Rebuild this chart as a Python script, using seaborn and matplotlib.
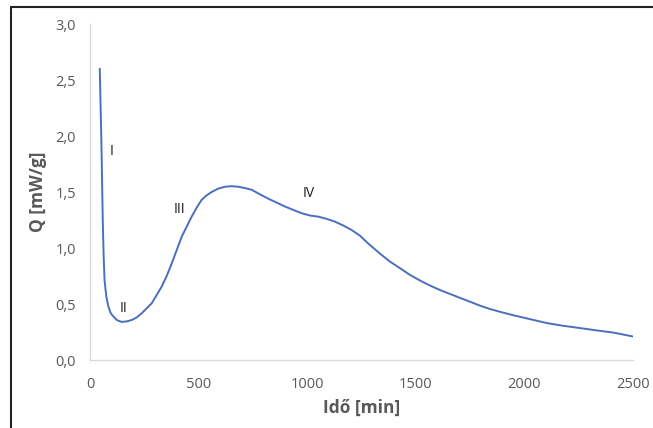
import matplotlib
matplotlib.use("Agg")
import matplotlib.pyplot as plt
import seaborn as sns
from matplotlib.lines import Line2D
from matplotlib.ticker import FuncFormatter

# ── Data ─────────────────────────────────────────────────────────────────────
ido_min = [45, 49, 53, 56, 59, 63, 67, 75, 84, 95, 107, 125, 146, 170, 192,
           215, 238, 260, 284, 307, 330, 353, 376, 399, 422, 445, 468, 491,
           514, 537, 560, 590, 622, 652, 683, 714, 744, 782, 821, 860, 898,
           936, 975, 1013, 1051, 1090, 1128, 1167, 1205, 1243, 1281, 1335,
           1380, 1427, 1473, 1519, 1565, 1611, 1657, 1703, 1750, 1796, 1842,
           1888, 1948, 2025, 2103, 2180, 2256, 2330, 2409, 2500]
q_mw_g = [2.60, 2.25, 1.90, 1.55, 1.22, 0.92, 0.71, 0.57, 0.48, 0.42, 0.39,
          0.355, 0.34, 0.345, 0.357, 0.38, 0.417, 0.46, 0.506, 0.58, 0.655,
          0.75, 0.86, 0.98, 1.10, 1.19, 1.28, 1.36, 1.43, 1.47, 1.50, 1.53,
          1.547, 1.552, 1.547, 1.535, 1.52, 1.48, 1.44, 1.405, 1.37, 1.34,
          1.31, 1.29, 1.28, 1.26, 1.235, 1.20, 1.16, 1.11, 1.04, 0.95, 0.88,
          0.82, 0.76, 0.71, 0.665, 0.625, 0.59, 0.555, 0.52, 0.485, 0.455,
          0.43, 0.40, 0.365, 0.33, 0.305, 0.285, 0.265, 0.245, 0.21]

phase_labels = ["I", "II", "III", "IV"]
phase_x = [101, 154, 414, 1005]
phase_y = [1.86, 0.46, 1.345, 1.49]

x_ticks = [0, 500, 1000, 1500, 2000, 2500]
y_ticks = [0.0, 0.5, 1.0, 1.5, 2.0, 2.5, 3.0]

# ── Style ────────────────────────────────────────────────────────────────────
sns.set_style("white")
plt.rcParams["font.family"] = ["Open Sans", "DejaVu Sans"]

W, H = 653, 428
fig = plt.figure(figsize=(W / 100, H / 100), dpi=100)
ax = fig.add_axes([90 / W, (H - 360) / H, (633 - 90) / W, (360 - 24) / H])

sns.lineplot(x=ido_min, y=q_mw_g, ax=ax, sort=False, color="#4a6fbf",
             linewidth=1.4)

for lab, lx, ly in zip(phase_labels, phase_x, phase_y):
    ax.text(lx, ly, lab, fontsize=10, color="#1a1a1a", ha="center",
            va="center")

ax.set_xlim(0, 2500)
ax.set_ylim(0, 3.0)
ax.set_xticks(x_ticks)
ax.set_yticks(y_ticks)
ax.yaxis.set_major_formatter(FuncFormatter(lambda v, _: f"{v:.1f}".replace(".", ",")))
ax.tick_params(axis="both", which="major", length=4, width=1, color="#d9d9d9",
               labelcolor="#595959", labelsize=10.5, direction="out")
ax.tick_params(axis="x", pad=8)
ax.tick_params(axis="y", pad=6)

for side in ["top", "right"]:
    ax.spines[side].set_visible(False)
for side in ["left", "bottom"]:
    ax.spines[side].set_color("#d9d9d9")
    ax.spines[side].set_linewidth(1)

ax.set_xlabel("Idő [min]", fontsize=12.5, fontweight="bold", color="#595959",
              labelpad=5)
ax.set_ylabel("Q [mW/g]", fontsize=12.5, fontweight="bold", color="#595959",
              labelpad=6)

# outer frame (left and top edges of the boxed figure)
fig.add_artist(Line2D([11 / W, 11 / W], [0, 1 - 7 / H], color="#222222",
                      linewidth=1.5, transform=fig.transFigure))
fig.add_artist(Line2D([11 / W, 1], [1 - 7 / H, 1 - 7 / H], color="#222222",
                      linewidth=1.5, transform=fig.transFigure))

fig.savefig("out.png", dpi=100)
